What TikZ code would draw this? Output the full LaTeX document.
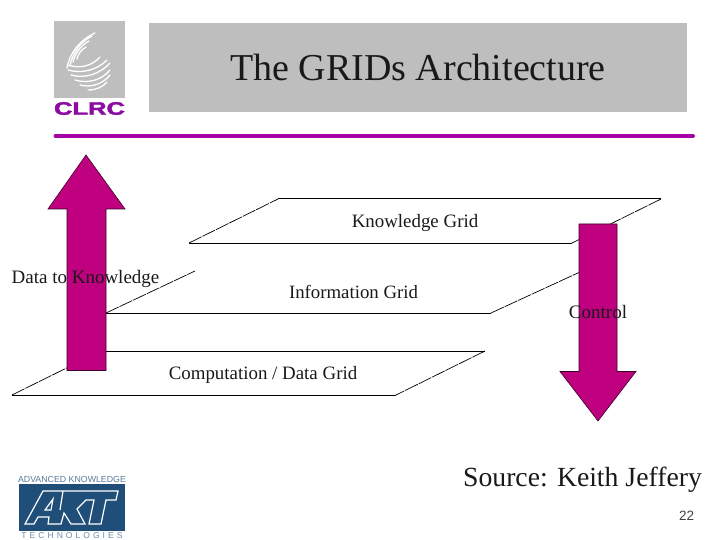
\documentclass[tikz,border=0pt]{standalone}
\usepackage{fontspec}
\setmainfont{Liberation Serif}
\newfontfamily\arialf{Liberation Sans}
\newfontfamily\clrcf[FakeBold=2]{Liberation Sans Bold}
\definecolor{arrowc}{HTML}{BF007F}
\definecolor{greyc}{HTML}{BEBEBE}
\definecolor{rulec}{HTML}{A800A8}
\definecolor{clrcc}{HTML}{8A0CA0}
\definecolor{aktc}{HTML}{1F4E79}
\tikzset{
 gridline/.style={line width=1pt,black},
 slant/.style={line width=.7pt,black,dash pattern=on 14pt off 1pt},
 bigarrow/.style={fill=arrowc,draw=black!70!arrowc,line width=.6pt},
 lbl/.style={inner sep=0pt,text=black!90},
 globeline/.style={white,line width=1.3pt,line cap=round},
 aktline/.style={white,line width=1.2pt,line join=miter},
}
\begin{document}
\begin{tikzpicture}[x=1pt,y=-1pt]
\useasboundingbox (0,0) rectangle (720,540);
% CLRC logo
\node[fill=greyc,minimum width=71pt,minimum height=77pt,inner sep=0pt] (logobox) at (89.5,59.5) {};
\draw[globeline] (95,33) .. controls (80,40) and (70,52) .. (67,68);
\draw[globeline] (92,36) .. controls (80,42) and (72,54) .. (70,66);
\draw[globeline] (89,41) .. controls (80,46) and (75,54) .. (73,62);
\draw[globeline] (86,47) .. controls (81,50) and (78,54) .. (77,59);
\draw[globeline] (68,65) .. controls (80,69) and (92,66) .. (100,57);
\draw[globeline] (68,70) .. controls (82,74) and (97,70) .. (107,60);
\draw[globeline] (71,75) .. controls (85,79) and (100,74) .. (110,63);
\draw[globeline] (75,80) .. controls (88,84) and (102,80) .. (110,70);
\draw[globeline] (80,85) .. controls (91,88) and (103,84) .. (110,75);
\draw[globeline] (88,90) .. controls (96,90) and (103,87) .. (107,82);
\node[inner sep=0pt,font=\clrcf,text=clrcc,xscale=1.42,yscale=1] (clrc) at (89.5,108.5) {\fontsize{18}{18}\selectfont CLRC};
% title
\node[fill=greyc,minimum width=538pt,minimum height=89pt,inner sep=0pt] (titlebox) at (418,67.5) {};
\node[lbl,font=\fontsize{38}{38}\selectfont] (title) at (418,68) {The GRIDs Architecture};
\draw[rulec,line width=4pt,line cap=round] (55.5,136) coordinate (ra) -- (693,136) coordinate (rb);
% knowledge grid
\coordinate (k1) at (189,243); \coordinate (k2) at (278,199); \coordinate (k3) at (661,199); \coordinate (k4) at (572,243);
\draw[slant] (k1) -- (k2); \draw[gridline] (k2) -- (k3); \draw[slant] (k3) -- (k4); \draw[gridline] (k4) -- (k1);
% information grid
\coordinate (i1) at (106,313); \coordinate (i2) at (195,271); \coordinate (i3) at (491,313); \coordinate (i4) at (580,272);
\draw[slant] (i1) -- (i2); \draw[gridline] (i1) -- (i3); \draw[slant] (i3) -- (i4);
% computation grid
\coordinate (c1) at (12,395); \coordinate (c2) at (101,351); \coordinate (c3) at (485,351); \coordinate (c4) at (396,395);
\draw[slant] (c1) -- (c2); \draw[gridline] (c2) -- (c3); \draw[slant] (c3) -- (c4); \draw[gridline] (c4) -- (c1);
% arrows
\draw[bigarrow] (86,155) coordinate (ua) -- (125,209) -- (106,209) -- (106,370.5) -- (67,370.5) -- (67,209) -- (48,209) -- cycle;
\draw[bigarrow] (598,421) coordinate (da) -- (636,371.5) -- (617,371.5) -- (617,224) -- (579,224) -- (579,371.5) -- (560,371.5) -- cycle;
% labels
\node[lbl,font=\fontsize{18.9}{18.9}\selectfont] (knowledge) at (415,222.5) {Knowledge Grid};
\node[lbl,font=\fontsize{18.8}{18.8}\selectfont] (information) at (353.5,291.5) {Information Grid};
\node[lbl,font=\fontsize{18.9}{18.9}\selectfont] (computation) at (263,374.5) {Computation / Data Grid};
\node[lbl,font=\fontsize{19}{19}\selectfont] (datak) at (85.5,278.5) {Data to Knowledge};
\node[lbl,font=\fontsize{19}{19}\selectfont] (control) at (598,312) {Control};
\node[lbl,font=\fontsize{27.7}{27.7}\selectfont] (source) at (582.5,479.5) {Source: Keith Jeffery};
\node[lbl,font=\arialf\fontsize{13.5}{13.5}\selectfont,text=black!75] (page) at (686.5,516) {22};
% AKT logo
\node[fill=aktc,minimum width=106pt,minimum height=47pt,inner sep=0pt] (aktbox) at (72,507.5) {};
\draw[aktline] (25,524) -- (43,491) -- (118,491) -- (116,500) -- (106,500) -- (101,524) -- (89,524) -- (94,500) -- (86,500) -- (77,509) -- (85,524) -- (71,524) -- (64,513) -- (61,524) -- (48,524) -- (49,517) -- (38,517) -- (34,524) -- cycle;
\draw[aktline] (45,510) -- (53,499) -- (51,510) -- cycle;
\draw[aktline] (63,491) -- (60,510);
\node[inner sep=0pt,font=\arialf\fontsize{8.8}{8.8}\selectfont,text=aktc!75] (aktt) at (72,479.5) {ADVANCED KNOWLEDGE};
\node[inner sep=0pt,font=\arialf\fontsize{8.6}{8.6}\selectfont,text=aktc!65] (aktb) at (72,535.5) {T\hspace{1.55pt}\,E\hspace{1.55pt}\,C\hspace{1.55pt}\,H\hspace{1.55pt}\,N\hspace{1.55pt}\,O\hspace{1.55pt}\,L\hspace{1.55pt}\,O\hspace{1.55pt}\,G\hspace{1.55pt}\,I\hspace{1.55pt}\,E\hspace{1.55pt}\,S};
\end{tikzpicture}
\end{document}
